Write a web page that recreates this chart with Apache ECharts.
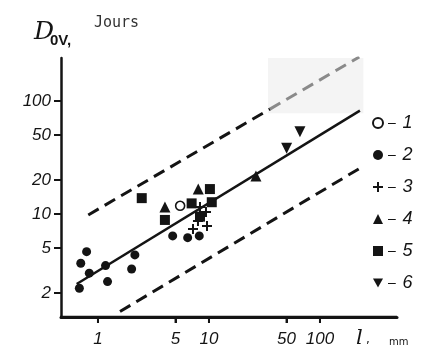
<!DOCTYPE html>
<html><head><meta charset="utf-8">
<script src="https://cdn.jsdelivr.net/npm/echarts@6/dist/echarts.min.js"></script>
<style>html,body{margin:0;padding:0;background:#fff}#c{width:421px;height:355px}</style>
</head><body><div id="c"></div>
<script>
// ---- data (real units: l in mm, D in days) ----
const xTicks = [1, 5, 10, 50, 100];
const yTicks = [2, 5, 10, 20, 50, 100];
const s1 = [[5.5, 11.8]];
const s2 = [[0.68, 2.2], [0.79, 4.64], [0.70, 3.66], [0.835, 2.99], [1.17, 3.49], [1.22, 2.52], [2.01, 3.26], [2.15, 4.34], [4.71, 6.39], [6.43, 6.17], [8.18, 6.39]];
const s3 = [[8.3, 11.5], [9.4, 10.4], [7.18, 7.37], [9.6, 7.83], [7.96, 8.67]];
const s4 = [[4.01, 11.5], [8.01, 16.6], [26.5, 21.7]];
const s5 = [[2.48, 13.8], [4.01, 8.85], [6.98, 12.4], [10.6, 12.7], [10.2, 16.6], [8.3, 9.46]];
const s6 = [[50.1, 38.1], [66, 53.5]];
const fitLine = [[0.643, 2.40], [229, 82]];
const upperDark = [[0.818, 9.8], [35.4, 84.7]];
const upperGray = [[35.4, 84.7], [226, 245]];
const lowerLine = [[1.58, 1.37], [229, 25.4]];
const legendNames = ['1', '2', '3', '4', '5', '6'];
const xRange = [0.464, 494];
const yRange = [1.226, 240];
const shadeBox = [[34, 78], [246, 240]];

const L = v => Math.log10(v);
const tr = arr => arr.map(p => [L(p[0]), L(p[1])]);
const fmt = v => String(Math.round(Math.pow(10, v)));
const r3 = v => Math.round(v * 1000) / 1000;

const chart = echarts.init(document.getElementById('c'), null, {renderer: 'canvas'});
const black = '#141414';
const plusPath = 'path://M4,0h2v4h4v2h-4v4h-2v-4h-4v-2h4z';
const downTri = 'path://M0,0L10,0L5,9Z';
const labelFont = {fontStyle: 'italic', fontSize: 17, fontFamily: 'Liberation Sans', color: black};
const xMin = r3(L(xRange[0])), xMax = r3(L(xRange[1]));
const yMin = r3(L(yRange[0])), yMax = r3(L(yRange[1]));

function sc(name, data, symbol, size, extra) {
  return Object.assign({
    name: name, type: 'scatter', data: tr(data), symbol: symbol, symbolSize: size,
    itemStyle: {color: black, opacity: 1}, z: 5
  }, extra || {});
}
function ln(data, dashed, color, width) {
  return {
    type: 'line', data: tr(data), symbol: 'none', silent: true, z: 3,
    lineStyle: {color: color, width: width, type: dashed ? [12, 7] : 'solid'}
  };
}

const titleGraphics = [
  {type: 'text', left: 34, top: 20, style: {text: 'D', fontStyle: 'italic', fontSize: 25, fontFamily: 'DejaVu Serif', fill: black}},
  {type: 'text', left: 50, top: 33, style: {text: '0V,', fontWeight: 'bold', fontSize: 15, fontFamily: 'Liberation Sans', fill: black}},
  {type: 'text', left: 94, top: 16, style: {text: 'Jours', fontSize: 15, fontFamily: 'DejaVu Sans Mono', fill: '#333'}},
  {type: 'text', left: 356, top: 328, style: {text: 'l', fontStyle: 'italic', fontSize: 21, fontFamily: 'DejaVu Serif', fill: black}},
  {type: 'text', left: 366, top: 334, style: {text: ',', fontSize: 12, fontFamily: 'DejaVu Sans', fill: black}},
  {type: 'text', left: 389, top: 337, style: {text: 'mm', fontSize: 10, fontFamily: 'DejaVu Sans', fill: black}}
];

const option = {
  animation: false,
  grid: {left: 61, right: 24, top: 58, bottom: 38},
  xAxis: {
    type: 'value', min: xMin, max: xMax,
    splitLine: {show: false},
    axisLine: {show: true, onZero: false, lineStyle: {color: black, width: 3}},
    axisTick: {show: true, customValues: xTicks.map(L), length: 6, lineStyle: {color: black, width: 2}},
    axisLabel: Object.assign({customValues: xTicks.map(L), formatter: fmt, margin: 14}, labelFont)
  },
  yAxis: {
    type: 'value', min: yMin, max: yMax,
    splitLine: {show: false},
    axisLine: {show: true, onZero: false, lineStyle: {color: black, width: 2.5}},
    axisTick: {show: true, customValues: yTicks.map(L), length: 7, lineStyle: {color: black, width: 2}},
    axisLabel: Object.assign({customValues: yTicks.map(L), formatter: fmt, margin: 10}, labelFont)
  },
  legend: {
    data: legendNames, orient: 'vertical', left: 367, top: 109,
    itemWidth: 10, itemHeight: 10, itemGap: 14,
    formatter: n => '{d|–}  {n|' + n + '}',
    textStyle: {color: black, rich: {
      d: {fontSize: 14, fontFamily: 'Liberation Sans', color: black, lineHeight: 20},
      n: {fontSize: 18, fontStyle: 'italic', fontFamily: 'Liberation Sans', color: black, lineHeight: 20}
    }}
  },
  graphic: titleGraphics,
  series: [
    Object.assign(ln(upperGray, true, '#8a8a8a', 3), {
      markArea: {silent: true, itemStyle: {color: '#f4f4f4'},
        data: [[{coord: [L(shadeBox[0][0]), L(shadeBox[0][1])]}, {coord: [L(shadeBox[1][0]), L(shadeBox[1][1])]}]]}
    }),
    ln(upperDark, true, black, 3),
    ln(lowerLine, true, black, 3),
    ln(fitLine, false, black, 2.5),
    sc('1', s1, 'circle', 9, {itemStyle: {color: '#fff', borderColor: black, borderWidth: 1.6, opacity: 1}}),
    sc('2', s2, 'circle', 9),
    sc('3', s3, plusPath, 10),
    sc('4', s4, 'triangle', 11),
    sc('5', s5, 'rect', 10),
    sc('6', s6, downTri, 11)
  ]
};
chart.setOption(option);

// Bottom axis line + ticks, positioned through the chart's own scales.
const p0 = chart.convertToPixel({gridIndex: 0}, [xMin, yMin]);
const p1 = chart.convertToPixel({gridIndex: 0}, [xMax, yMin]);
const axisG = [{type: 'line', z: 100, silent: true,
  shape: {x1: p0[0] - 1, y1: p0[1], x2: p1[0], y2: p1[1]},
  style: {stroke: black, lineWidth: 2.5}}];
xTicks.forEach(t => {
  const p = chart.convertToPixel({gridIndex: 0}, [L(t), yMin]);
  axisG.push({type: 'line', z: 100, silent: true,
    shape: {x1: p[0], y1: p[1], x2: p[0], y2: p[1] + 6},
    style: {stroke: black, lineWidth: 2}});
});
chart.setOption({graphic: titleGraphics.concat(axisG)});
</script>
</body></html>
